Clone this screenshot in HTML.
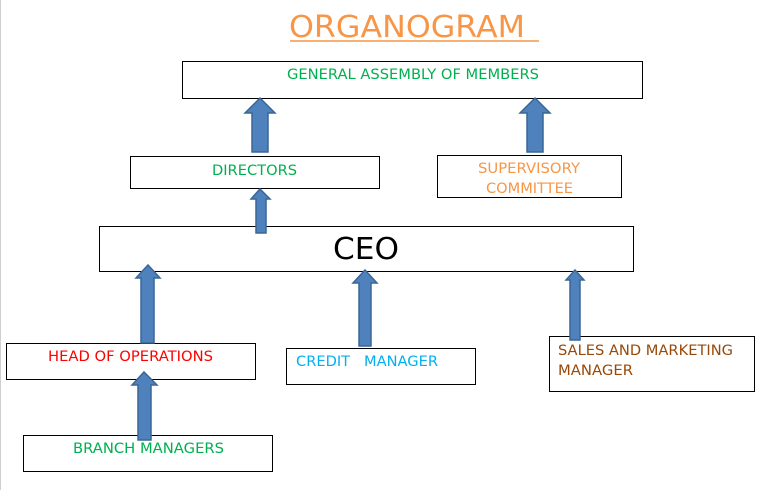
<!DOCTYPE html>
<html><head><meta charset="utf-8"><style>
html,body{margin:0;padding:0;background:#fff;width:763px;height:490px;overflow:hidden}
svg text{font-family:"DejaVu Sans","Liberation Sans",sans-serif}
</style></head><body>
<svg width="763" height="490" xmlns="http://www.w3.org/2000/svg">
<line x1="0.5" y1="0" x2="0.5" y2="490" stroke="#cfcfcf" stroke-width="1"/>
<text x="289" y="37" font-size="30" fill="#f79646" textLength="236" lengthAdjust="spacingAndGlyphs">ORGANOGRAM</text>
<line x1="290" y1="41" x2="539" y2="41" stroke="#f79646" stroke-width="1.5"/>
<g fill="#fff" stroke="#000" stroke-width="1">
<rect x="182.5" y="61.5" width="460" height="37"/>
<rect x="130.5" y="156.5" width="249" height="32"/>
<rect x="437.5" y="155.5" width="184" height="42"/>
<rect x="99.5" y="226.5" width="534" height="45"/>
<rect x="6.5" y="343.5" width="249" height="36"/>
<rect x="286.5" y="348.5" width="189" height="36"/>
<rect x="549.5" y="336.5" width="205" height="55"/>
<rect x="23.5" y="435.5" width="249" height="36"/>
</g>
<g fill="#4f81bd" stroke="#3a6797" stroke-width="1.5">
<polygon points="260,98 275,113 268,113 268,152 252,152 252,113 245,113"/>
<polygon points="535,98 550,113 543,113 543,152 527,152 527,113 520,113"/>
<polygon points="260,189 270,199 266,199 266,233 256,233 256,199 251,199"/>
<polygon points="148,265 160,278 154,278 154,343 141,343 141,278 136,278"/>
<polygon points="365,270 377,283 371,283 371,346 359,346 359,283 353,283"/>
<polygon points="575,270 584,280 580,280 580,340 570,340 570,280 566,280"/>
<polygon points="144,372 157,385 151,385 151,440 138,440 138,385 132,385"/>
</g>
<g font-size="14">
<text x="287" y="79" fill="#00b050" textLength="252" lengthAdjust="spacingAndGlyphs">GENERAL ASSEMBLY OF MEMBERS</text>
<text x="212" y="175" fill="#00b050" textLength="85" lengthAdjust="spacingAndGlyphs">DIRECTORS</text>
<text x="478" y="173" fill="#f79646" textLength="102" lengthAdjust="spacingAndGlyphs">SUPERVISORY</text>
<text x="486" y="193" fill="#f79646" textLength="87" lengthAdjust="spacingAndGlyphs">COMMITTEE</text>
<text x="48" y="361" fill="#ff0000" textLength="165" lengthAdjust="spacingAndGlyphs">HEAD OF OPERATIONS</text>
<text x="296" y="366" fill="#00b0f0" textLength="142" lengthAdjust="spacingAndGlyphs" xml:space="preserve">CREDIT   MANAGER</text>
<text x="558" y="355" fill="#984807" textLength="175" lengthAdjust="spacingAndGlyphs">SALES AND MARKETING</text>
<text x="558" y="375" fill="#984807" textLength="75" lengthAdjust="spacingAndGlyphs">MANAGER</text>
<text x="73" y="453" fill="#00b050" textLength="151" lengthAdjust="spacingAndGlyphs">BRANCH MANAGERS</text>
</g>
<text x="333" y="259" font-size="30" fill="#000" textLength="66" lengthAdjust="spacingAndGlyphs">CEO</text>
</svg>
</body></html>
